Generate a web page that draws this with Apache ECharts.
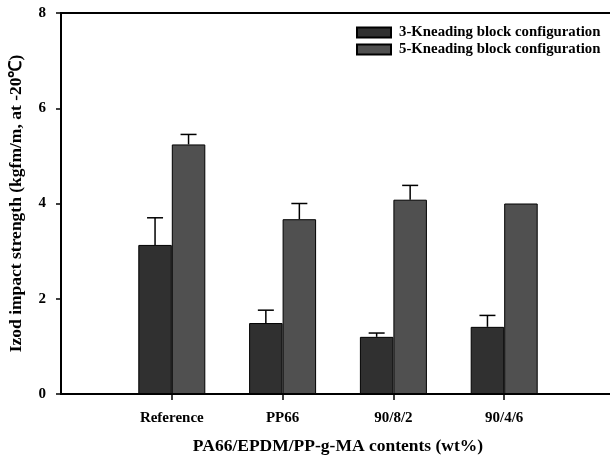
<!DOCTYPE html>
<html><head><meta charset="utf-8">
<script src="https://cdn.jsdelivr.net/npm/echarts@6/dist/echarts.min.js"></script>
<style>html,body{margin:0;padding:0;background:#fff;}#c{width:610px;height:458px;}</style>
</head><body><div id="c"></div>
<script>
var categories = ['Reference', 'PP66', '90/8/2', '90/4/6'];
var catPos = [1, 2, 3, 4];
var kb3 = [3.13, 1.49, 1.20, 1.41];
var kb3Err = [0.57, 0.27, 0.08, 0.24];
var kb5 = [5.24, 3.67, 4.08, 4.00];
var kb5Err = [0.21, 0.33, 0.30, 0];
var yTicks = [0, 2, 4, 6, 8];

var FONT = 'Liberation Serif';
var BW = 33.5;
var chart = echarts.init(document.getElementById('c'));

function errSeries(vals, errs, side) {
  var data = catPos.map(function (p, i) { return [p, vals[i], vals[i] + errs[i]]; });
  return {
    type: 'custom', silent: true, z: 1,
    data: data,
    renderItem: function (params, api) {
      var x = api.value(0), v = api.value(1), t = api.value(2);
      if (t <= v) return null;
      var a = api.coord([x, v]), b = api.coord([x, t]);
      var cx = a[0] + side * BW / 2;
      var style = { stroke: '#000', lineWidth: 1.5 };
      return { type: 'group', children: [
        { type: 'line', shape: { x1: cx, y1: a[1], x2: cx, y2: b[1] }, style: style },
        { type: 'line', shape: { x1: cx - 8, y1: b[1], x2: cx + 8, y2: b[1] }, style: style }
      ]};
    }
  };
}

chart.setOption({
  animation: false,
  backgroundColor: '#fff',
  grid: { left: 61, top: 13, right: -5, bottom: 64, outerBoundsMode: 'none', containLabel: false,
    show: true, borderColor: '#000', borderWidth: 2, backgroundColor: 'transparent' },
  legend: {
    orient: 'vertical', left: 351, top: 20, itemWidth: 34, itemHeight: 10, itemGap: 2,
    icon: 'rect',
    textStyle: { fontFamily: FONT, fontWeight: 'bold', fontSize: 14.8, color: '#000', lineHeight: 15, padding: [0, 0, 0, 3] },
    data: ['3-Kneading block configuration', '5-Kneading block configuration']
  },
  xAxis: {
    type: 'value', min: 0, max: 5, interval: 1,
    name: 'PA66/EPDM/PP-g-MA contents (wt%)', nameLocation: 'middle', nameGap: 43,
    nameTextStyle: { fontFamily: FONT, fontWeight: 'bold', fontSize: 17.5, color: '#000' },
    axisLine: { lineStyle: { color: '#000', width: 2 } },
    axisTick: { show: true, length: 6, lineStyle: { color: '#000', width: 1.5 }, customValues: catPos },
    axisLabel: { customValues: catPos, margin: 17, fontFamily: FONT, fontWeight: 'bold', fontSize: 15, color: '#000',
      formatter: function (v) { var i = catPos.indexOf(Math.round(v)); return i >= 0 ? categories[i] : ''; } },
    splitLine: { show: false }
  },
  yAxis: {
    type: 'value', min: 0, max: 8, interval: 2,
    name: 'Izod impact strength (kgfm/m, at -20\u2103)', nameLocation: 'middle', nameGap: 36,
    nameTextStyle: { fontFamily: FONT, fontWeight: 'bold', fontSize: 17.5, color: '#000' },
    axisLine: { show: true, lineStyle: { color: '#000', width: 2 } },
    axisTick: { show: true, inside: false, length: 5, lineStyle: { color: '#000', width: 1.5 }, customValues: yTicks },
    axisLabel: { customValues: yTicks, margin: 15, fontFamily: FONT, fontWeight: 'bold', fontSize: 15, color: '#000' },
    splitLine: { show: false }
  },
  series: [
    { name: '3-Kneading block configuration', type: 'bar', barWidth: BW, barGap: '0%', z: 2,
      itemStyle: { color: '#303030', borderColor: '#000', borderWidth: 1 },
      data: catPos.map(function (p, i) { return [p, kb3[i]]; }) },
    { name: '5-Kneading block configuration', type: 'bar', barWidth: BW, barGap: '0%', z: 2,
      itemStyle: { color: '#505050', borderColor: '#000', borderWidth: 1 },
      data: catPos.map(function (p, i) { return [p, kb5[i]]; }) },
    errSeries(kb3, kb3Err, -1),
    errSeries(kb5, kb5Err, 1)
  ]
});
</script></body></html>
